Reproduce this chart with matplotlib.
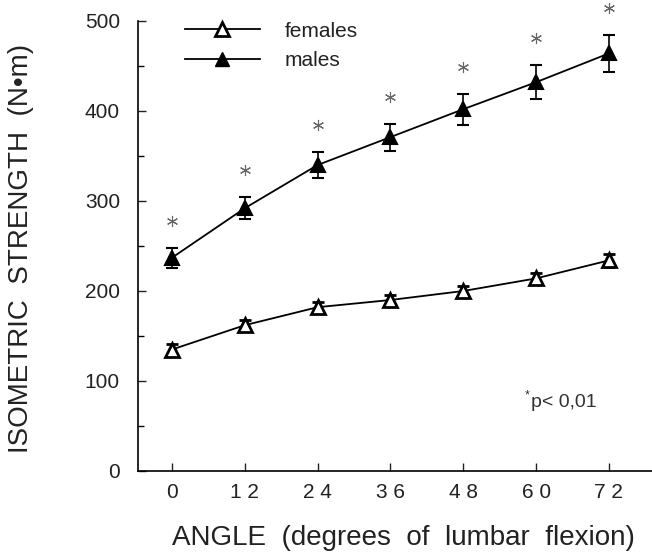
import matplotlib
matplotlib.use("Agg")
import matplotlib.pyplot as plt
import numpy as np
from matplotlib.lines import Line2D

plt.rcParams['font.family'] = ['Liberation Sans', 'DejaVu Sans']

angles = [0, 12, 24, 36, 48, 60, 72]
tick_labels = ["0", "1 2", "2 4", "3 6", "4 8", "6 0", "7 2"]
females = [135, 162, 182, 190, 200, 214, 234]
females_err = [6, 6, 6, 6, 6, 6, 7]
males = [237, 292, 340, 371, 402, 432, 464]
males_err = [11, 12, 14, 15, 17, 19, 21]
signif_offset = 30

fig = plt.figure(figsize=(6.52, 5.52), dpi=100)
W, H = 652, 552
ax = fig.add_axes([138 / W, (H - 471) / H, (652 - 138) / W, 450 / H])

ax.errorbar(angles, females, yerr=females_err, color='black', lw=1.3,
            marker='^', markersize=10, markerfacecolor='white',
            markeredgecolor='black', markeredgewidth=2, capsize=4,
            elinewidth=1.2, capthick=1.2, clip_on=False, zorder=3)
ax.errorbar(angles, males, yerr=males_err, color='black', lw=1.3,
            marker='^', markersize=10, markerfacecolor='black',
            markeredgecolor='black', markeredgewidth=1.5, capsize=4,
            elinewidth=1.2, capthick=1.2, clip_on=False, zorder=3)

star_y = [m + e + signif_offset for m, e in zip(males, males_err)]
ax.plot(angles, star_y, linestyle='none', marker=(6, 2, 0), markersize=8,
        markeredgewidth=0.8, color='#666666', clip_on=False)

ax.set_xlim(-5.6, 79.1)
ax.set_ylim(0, 500)
ax.spines['top'].set_visible(False)
ax.spines['right'].set_visible(False)
ax.spines['left'].set_linewidth(1.2)
ax.spines['bottom'].set_linewidth(1.2)

ax.set_xticks(angles)
ax.set_xticklabels(tick_labels)
ax.set_yticks([0, 100, 200, 300, 400, 500])
ax.set_yticks([50, 150, 250, 350, 450], minor=True)
ax.tick_params(axis='both', which='major', direction='in', length=6,
               width=1, labelsize=15, color='#222222', labelcolor='#222222')
ax.tick_params(axis='y', which='minor', direction='in', length=4, width=1)
ax.tick_params(axis='x', pad=9)
ax.tick_params(axis='y', pad=13)

fig.text(21 / W, 1 - 248 / H, "ISOMETRIC  STRENGTH  (N\u2022m)", rotation=90,
         ha='center', va='center', fontsize=20, color='#222222')
fig.text(403 / W, 1 - 538 / H, "ANGLE  (degrees  of  lumbar  flexion)",
         ha='center', va='center', fontsize=20, color='#222222')

# legend
h1 = Line2D([], [], color='black', lw=1.3, marker='^', markersize=10,
            markerfacecolor='white', markeredgecolor='black', markeredgewidth=2)
h2 = Line2D([], [], color='black', lw=1.3, marker='^', markersize=10,
            markerfacecolor='black', markeredgecolor='black')
leg = ax.legend([h1, h2], ["females", "males"], loc='upper left',
                bbox_to_anchor=(28 / 514, 1.04), frameon=False, fontsize=15,
                handlelength=3.6, handletextpad=1.2, labelspacing=0.5)
for t in leg.get_texts():
    t.set_color('#222222')

ax.text(0.752, 0.168, "*", transform=ax.transAxes, fontsize=9, color='#333333',
        ha='left', va='center')
ax.text(0.764, 0.153, "p< 0,01", transform=ax.transAxes, fontsize=14,
        color='#333333', ha='left', va='center')

fig.savefig("out.png", dpi=100)
